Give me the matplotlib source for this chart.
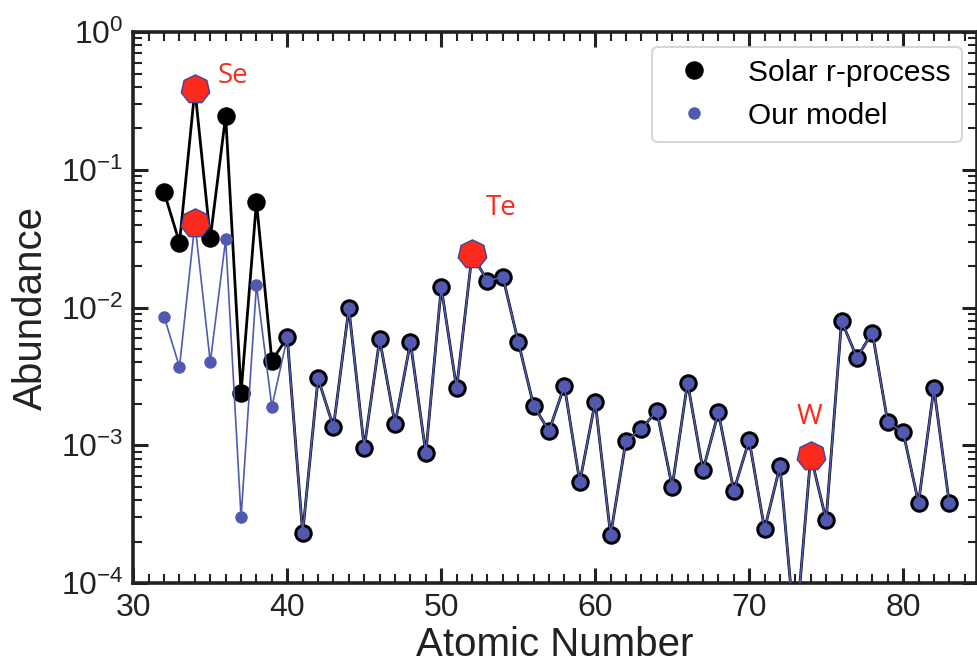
import matplotlib
matplotlib.use("Agg")
import matplotlib.pyplot as plt
from matplotlib.lines import Line2D
from matplotlib.ticker import LogLocator, MultipleLocator, NullFormatter

plt.rcParams['font.family'] = ['Liberation Sans', 'DejaVu Sans']
plt.rcParams['mathtext.fontset'] = 'custom'
plt.rcParams['mathtext.rm'] = 'Liberation Sans'
plt.rcParams['mathtext.default'] = 'regular'

# atomic numbers and abundances
z = list(range(32, 84))
solar = [0.069, 0.0295, 0.384, 0.0318, 0.247, 0.0024, 0.0586, 0.0041,
         0.00607, 0.00023, 0.00306, 0.00136, 0.00986, 0.00096, 0.00588, 0.00143,
         0.00559, 0.000874, 0.0140, 0.00259, 0.0243, 0.0156, 0.0167, 0.00565,
         0.00194, 0.00127, 0.00270, 0.00054, 0.00207, 0.000223, 0.00108, 0.00131,
         0.00178, 0.00050, 0.00285, 0.00066, 0.00173, 0.000468, 0.00109, 0.000246,
         0.000706, 0.00004, 0.00084, 0.000287, 0.00798, 0.00433, 0.00658, 0.00147,
         0.00125, 0.000382, 0.0026, 0.000378]
model = [0.0086, 0.0037, 0.041, 0.0040, 0.0313, 0.0003, 0.0146, 0.0019] + solar[8:]

marked = {'Se': 34, 'Te': 52, 'W': 74}
label_pos = {'Se': (35.5, 0.48), 'Te': (52.9, 0.053), 'W': (73.1, 0.0016)}

blue = '#5159b1'
red = '#fb2a1c'

fig = plt.figure(figsize=(9.78, 6.68), dpi=100)
ax = fig.add_axes([0.1363, 0.1272, 0.8627, 0.8248])

ax.plot(z, solar, color='black', lw=2.0, marker='o', ms=12.3,
        mfc='black', mec='black', zorder=2)
ax.plot(z, model, color=blue, lw=1.2, marker='o', ms=9.0,
        mfc=blue, mec=blue, mew=0, zorder=3)

for name, zz in marked.items():
    i = z.index(zz)
    for v in {solar[i], model[i]}:
        ax.plot(zz, v, marker=(7, 0, 0), ms=21, mfc=red, mec='#3d46a0',
                mew=1.0, ls='none', zorder=5)
    ax.text(*label_pos[name], name, color=red, fontsize=20,
            family=['Open Sans', 'DejaVu Sans'],
            ha='left', va='center', zorder=6)

ax.set_yscale('log')
ax.set_xlim(30, 84.8)
ax.set_ylim(1e-4, 1)
ax.xaxis.set_major_locator(MultipleLocator(10))
ax.xaxis.set_minor_locator(MultipleLocator(1))
ax.yaxis.set_major_locator(LogLocator(base=10, numticks=10))
ax.yaxis.set_minor_locator(LogLocator(base=10, subs=range(2, 10), numticks=10))
ax.yaxis.set_minor_formatter(NullFormatter())

ax.tick_params(which='both', direction='in', top=True, right=True, colors='#222222')
ax.tick_params(which='major', length=11, width=2.2, labelsize=23, pad=7)
ax.tick_params(which='minor', length=6.5, width=1.5)
for s in ax.spines.values():
    s.set_linewidth(2.6)
    s.set_color('#222222')

ax.set_xlabel('Atomic Number', fontsize=29, color='#222222', labelpad=2)
ax.set_ylabel('Abundance', fontsize=29, color='#222222', labelpad=8)

handles = [Line2D([], [], ls='none', marker='o', ms=12.3, color='black'),
           Line2D([], [], ls='none', marker='o', ms=9.0, color=blue, mew=0)]
leg = ax.legend(handles, ['Solar r-process', 'Our model'], loc='upper right',
                fontsize=21.5, frameon=True, fancybox=True)
leg.get_frame().set_edgecolor('#cccccc')
leg.get_frame().set_linewidth(1.5)

fig.savefig('out.png', dpi=100)
